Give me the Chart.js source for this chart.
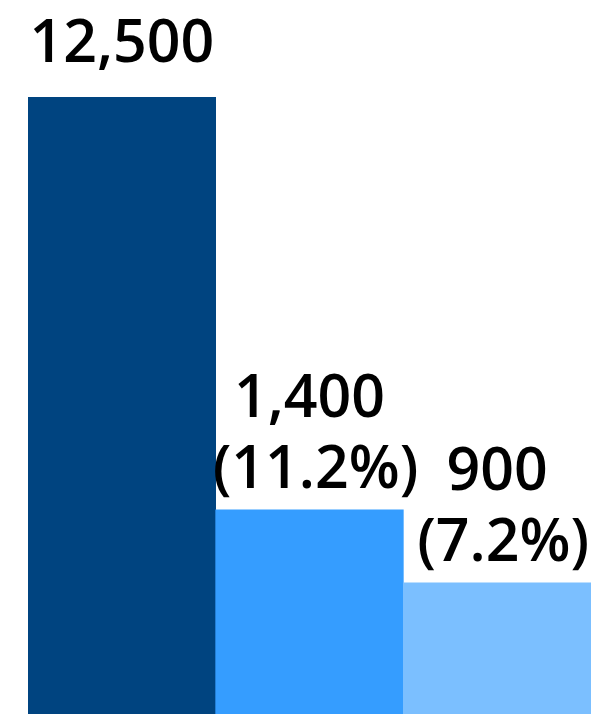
<!DOCTYPE html>
<html>
<head>
<meta charset="utf-8">
<script src="https://cdn.jsdelivr.net/npm/chart.js@4"></script>
<style>
  html, body { margin: 0; padding: 0; background: #fff; }
  #wrap { width: 593px; height: 714px; }
</style>
</head>
<body>
<div id="wrap"><canvas id="chart"></canvas></div>
<script>
const categories = ['Total', 'Group A', 'Group B'];
const values = [12500, 1400, 900];
const shares = [null, '11.2%', '7.2%'];
const barColors = ['#004480', '#359DFF', '#7BBFFF'];

// axis cut off so the two small bars read well, the big one runs off the top
const yMax = 4230;

const labelPlugin = {
  id: 'barLabels',
  afterDatasetsDraw(chart) {
    const ctx = chart.ctx;
    const meta = chart.getDatasetMeta(0);
    ctx.save();
    ctx.font = '600 59px "Open Sans"';
    ctx.fillStyle = '#000';
    ctx.textAlign = 'center';
    ctx.textBaseline = 'alphabetic';
    meta.data.forEach(function(bar, i) {
      let top = Math.max(bar.y, chart.chartArea.top);
      let lines = [values[i].toLocaleString('en-US')];
      if (shares[i]) lines.push('(' + shares[i] + ')');
      let gap = bar.y < chart.chartArea.top ? 35 : 22;
      let y = top - gap;
      for (let j = lines.length - 1; j >= 0; j--) {
        ctx.fillText(lines[j], bar.x + (j == 1 ? 6 : 0), y);
        y -= 71;
      }
    });
    ctx.restore();
  }
};

new Chart(document.getElementById('chart'), {
  type: 'bar',
  data: {
    labels: categories,
    datasets: [{
      data: values,
      backgroundColor: barColors,
      barPercentage: 1,
      categoryPercentage: 1
    }]
  },
  options: {
    responsive: true,
    maintainAspectRatio: false,
    animation: false,
    layout: { padding: { top: 97, left: 28, right: 2, bottom: 0 } },
    plugins: { legend: { display: false }, tooltip: { enabled: false } },
    scales: {
      x: { display: false },
      y: { display: false, min: 0, max: yMax }
    }
  },
  plugins: [labelPlugin]
});
</script>
</body>
</html>
